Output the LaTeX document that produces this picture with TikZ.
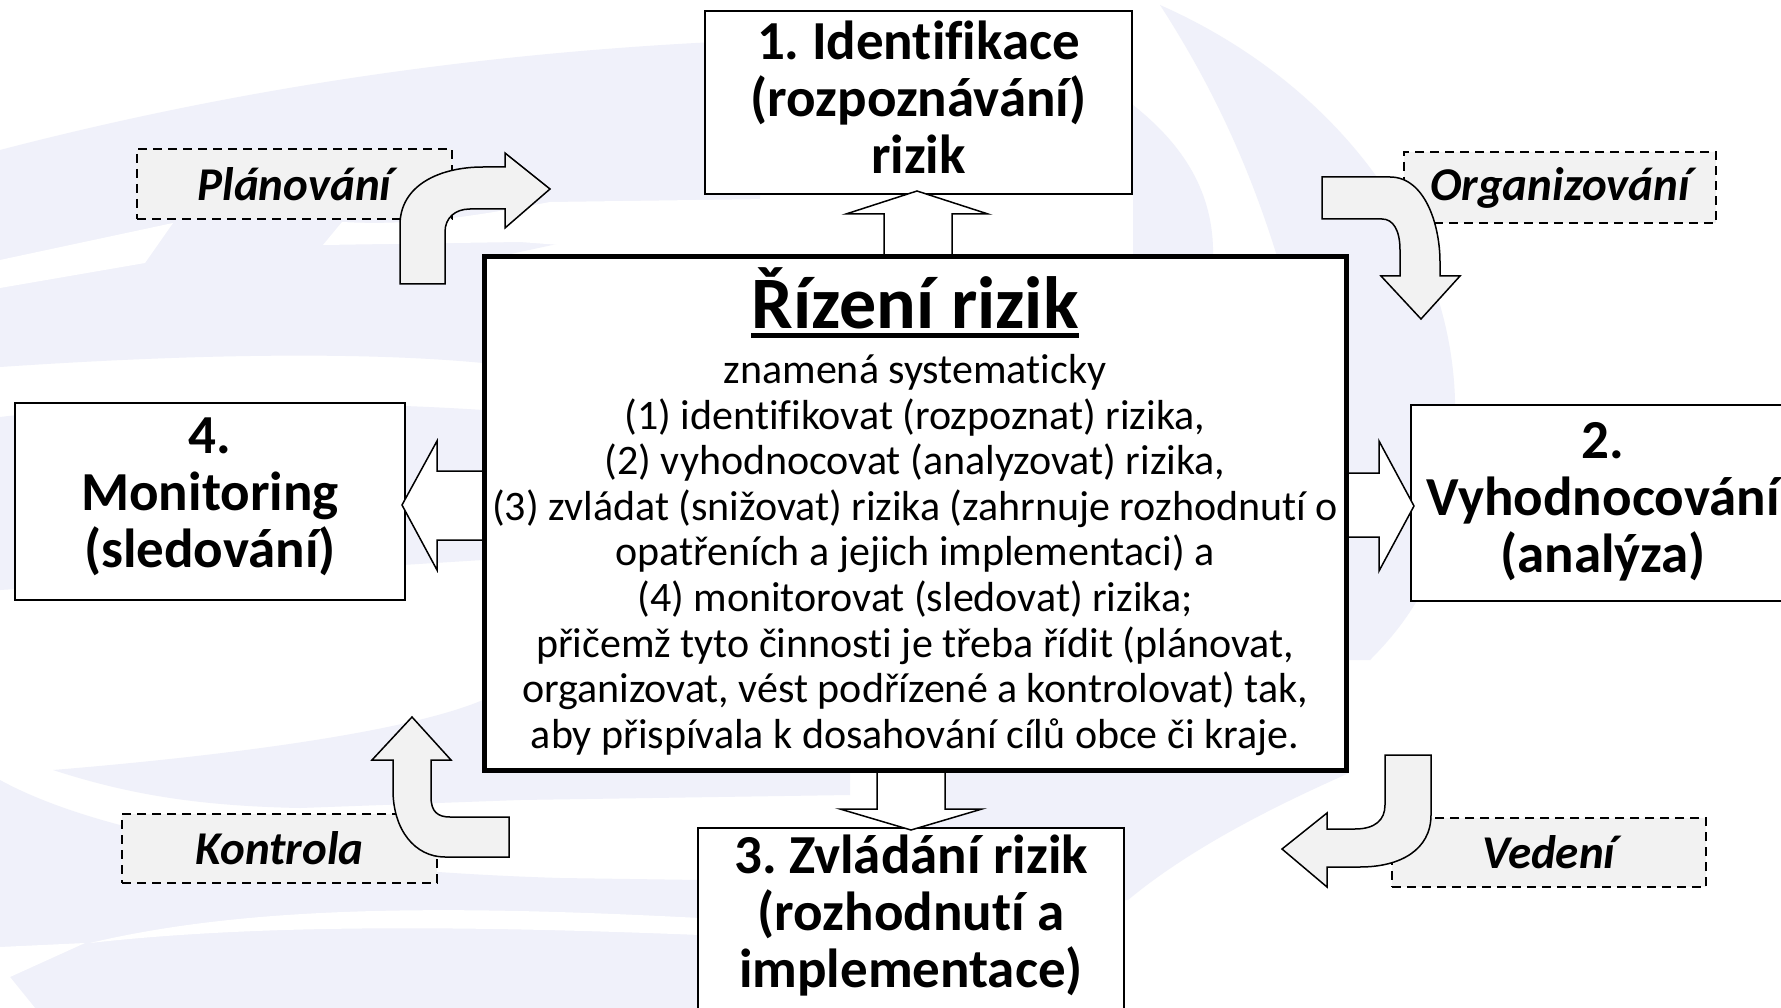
\documentclass[tikz,border=0pt]{standalone}
\usepackage{fontspec}
\setmainfont{Carlito}[Ligatures=NoCommon]
\usetikzlibrary{calc}
\definecolor{bgl}{RGB}{240,241,250}
\definecolor{lg}{RGB}{242,242,242}
\frenchspacing
\tikzset{
  rbox/.style={draw=black, line width=2, fill=white, rectangle, inner sep=0},
  ttl/.style={font=\fontsize{55}{57}\selectfont\bfseries, align=center, inner sep=0},
  lbl/.style={draw=black, line width=1.5, dash pattern=on 9 off 6, fill=lg, rectangle, inner sep=0,
     font=\fontsize{47}{50}\selectfont\bfseries\itshape},
  blk/.style={draw=black, line width=1.5, fill=white, line join=miter},
  crv/.style={draw=black, line width=1.5, fill=lg, line join=miter}
}
\begin{document}
\begin{tikzpicture}[x=1pt,y=-1pt]
\useasboundingbox (0,0) rectangle (1781,1008);
\clip (0,0) rectangle (1781,1008);
\fill[white] (0,0) rectangle (1781,1008);
% background watermark
\fill[bgl] (0,150) .. controls (250,85) and (500,50) .. (760,40) -- (760,200) -- (483,260) -- (483,363) .. controls (400,355) and (250,350) .. (0,367) -- cycle;
\fill[white] (0,260) -- (173,223) -- (145,263) -- (0,288) -- cycle;
\fill[white] (323,245) -- (342,222) .. controls (420,226) and (480,215) .. (550,202) -- (1133,194) -- (1133,254) -- (680,254) -- (520,242) -- cycle;
\fill[bgl] (0,417) .. controls (100,405) and (300,398) .. (483,410) -- (483,560) -- (0,590) -- cycle;
\fill[bgl] (53,770) .. controls (200,758) and (400,735) .. (483,700) -- (483,773) -- (850,773) -- (850,795) -- (520,800) -- (300,808) .. controls (200,806) and (130,795) .. (53,770) -- cycle;
\fill[bgl] (0,780) .. controls (100,835) and (300,870) .. (560,878) -- (700,880) -- (700,1008) -- (0,1008) -- cycle;
\fill[white] (90,943) .. controls (250,905) and (450,905) .. (700,918) -- (700,935) .. controls (450,925) and (250,925) .. (90,943) -- cycle;
\fill[white] (0,947) -- (85,943) -- (10,977) -- (35,1008) -- (0,1008) -- cycle;
\fill[bgl] (1160,5) .. controls (1330,80) and (1450,230) .. (1455,400) .. controls (1458,520) and (1440,590) .. (1370,660) -- (1300,660) -- (1300,400) .. controls (1300,330) and (1285,280) .. (1276,253) .. controls (1250,170) and (1215,90) .. (1160,5) -- cycle;
\fill[bgl] (1133,105) .. controls (1190,150) and (1215,200) .. (1213,260) -- (1133,260) -- cycle;
\fill[bgl] (900,773) -- (1349,773) .. controls (1300,795) and (1200,840) .. (1128,900) -- (1124,900) -- (1124,828) -- (900,828) -- cycle;

% outer boxes
\node[rbox, minimum width=427, minimum height=183] (b1) at (918.5,102.5) {};
\node[rbox, minimum width=384, minimum height=196] (b2) at (1603,503) {};
\node[rbox, minimum width=426, minimum height=187] (b3) at (911,921.5) {};
\node[rbox, minimum width=390, minimum height=197] (b4) at (210,501.5) {};

% block arrows from the centre box
\draw[blk] (884,256) -- (884,214) -- (846,214) -- (917,191) -- (988,214) -- (952,214) -- (952,256) -- cycle;
\draw[blk] (877,770) -- (877,809) -- (840,809) -- (911,830) -- (982,809) -- (945,809) -- (945,770) -- cycle;
\draw[blk] (485,471) -- (437,471) -- (437,441) -- (402,505) -- (437,570) -- (437,540) -- (485,540) -- cycle;
\draw[blk] (1346,473) -- (1379,473) -- (1379,441) -- (1414,506) -- (1379,571) -- (1379,537) -- (1346,537) -- cycle;

% centre box
\node[draw=black, line width=5, fill=white, rectangle, inner sep=0, minimum width=862, minimum height=514] (cb) at (915.5,513.5) {};
\node[font=\fontsize{74}{80}\selectfont\bfseries, inner sep=0, anchor=base] (title) at (915,329) {Řízení rizik};
\draw[line width=5] ([yshift=-7pt]title.base west) -- ([yshift=-7pt]title.base east);
\node[font=\fontsize{42}{45.6}\selectfont, align=center, inner sep=0] (body) at (915,555) {znamená systematicky\\
(1) identifikovat (rozpoznat) rizika,\\
(2) vyhodnocovat (analyzovat) rizika,\\
(3) zvládat (snižovat) rizika (zahrnuje rozhodnutí o\\
opatřeních a jejich implementaci) a\\
(4) monitorovat (sledovat) rizika;\\
přičemž tyto činnosti je třeba řídit (plánovat,\\
organizovat, vést podřízené a kontrolovat) tak,\\
aby přispívala k dosahování cílů obce či kraje.};

% box texts
\node[ttl] (t1) at (918.5,97) {1. Identifikace\\(rozpoznávání)\\rizik};
\node[ttl] (t2) at (1603,502) {2.\\Vyhodnocování\\(analýza)};
\node[ttl] (t3) at (911,916) {3. Zvládání rizik\\(rozhodnutí a\\implementace)};
\node[ttl] (t4) at (210,497) {4.\\Monitoring\\(sledování)};

% dashed labels
\node[lbl, minimum width=315, minimum height=70] (pl) at (294.5,184) {Plánování};
\node[lbl, minimum width=312, minimum height=71] (org) at (1560,187.5) {Organizování};
\node[lbl, minimum width=315, minimum height=69] (kon) at (279.5,848.5) {Kontrola};
\node[lbl, minimum width=314, minimum height=69] (ved) at (1549,852.5) {Vedení};

% curved arrows
\draw[crv] (400,284) -- (400,225) .. controls (400,185) and (440,167) .. (483,167) -- (505,167) -- (505,153) -- (550,189) -- (505,228) -- (505,209) -- (470,209) .. controls (455,209) and (445,218) .. (445,232) -- (445,284) -- cycle;
\draw[crv] (1322,177) -- (1390,177) .. controls (1425,177) and (1440,225) .. (1440,262) -- (1440,276) -- (1460,276) -- (1421,319) -- (1381,276) -- (1400,276) -- (1400,250) .. controls (1400,230) and (1393,219) .. (1382,219) -- (1322,219) -- cycle;
\draw[crv] (412,717) -- (451,760) -- (431,760) -- (431,797) .. controls (431,812) and (438,817) .. (450,817) -- (509,817) -- (509,857) -- (445,857) .. controls (415,857) and (393,830) .. (393,790) -- (393,760) -- (372,760) -- cycle;
\draw[crv] (1385,755) -- (1431,755) -- (1431,815) .. controls (1431,850) and (1400,867) .. (1360,867) -- (1327,867) -- (1327,887) -- (1282,849) -- (1327,813) -- (1327,829) -- (1355,829) .. controls (1375,829) and (1385,820) .. (1385,805) -- cycle;
\end{tikzpicture}
\end{document}
